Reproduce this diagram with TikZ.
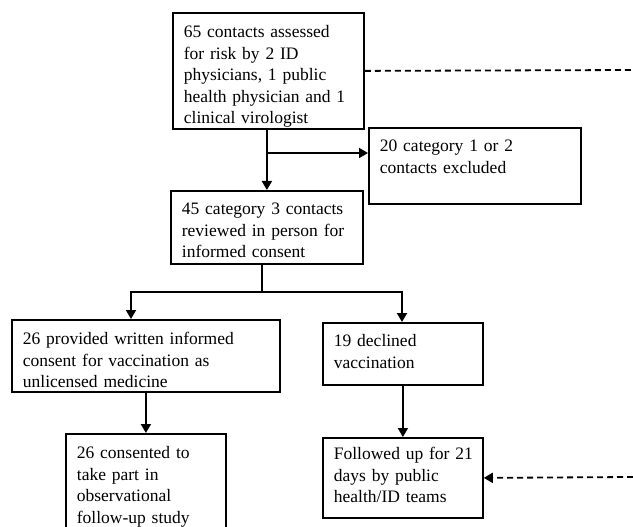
\documentclass[tikz,border=0pt]{standalone}
\usepackage{fontspec}
\setmainfont[WordSpace=0.8]{Liberation Serif}
\usetikzlibrary{arrows.meta}
\begin{document}
\begin{tikzpicture}[x=1pt,y=-1pt,
  flowbox/.style={draw, line width=1.8pt, anchor=north west, inner xsep=11pt, inner ysep=0pt,
    align=left, font=\fontsize{17.5}{21.5}\selectfont, text height=24pt},
  conn/.style={line width=1.8pt, -{Triangle[length=9pt,width=10pt]}},
  link/.style={line width=1.8pt},
  dashlink/.style={line width=1.8pt, dash pattern=on 6pt off 4pt}]
\useasboundingbox (0,0) rectangle (633,527);

\node[flowbox, text width=169pt, text height=25pt, text depth=91pt] (b1) at (172,12)
  {65 contacts assessed\\for risk by 2 ID\\physicians, 1 public\\health physician and 1\\clinical virologist};
\node[flowbox, text width=190pt, text depth=52pt] (b2) at (368,127)
  {20 category 1 or 2\\contacts excluded};
\node[flowbox, text width=170pt, text depth=49pt] (b3) at (170,190)
  {45 category 3 contacts\\reviewed in person for\\informed consent};
\node[flowbox, text width=246pt, text height=25pt, text depth=47pt] (b4) at (11,319)
  {26 provided written informed\\consent for vaccination as\\unlicensed medicine};
\node[flowbox, text width=138pt, text depth=38pt] (b5) at (322,322)
  {19 declined\\vaccination};
\node[flowbox, text width=138pt, text height=25pt, text depth=77pt] (b6) at (65,433)
  {26 consented to\\take part in\\observational\\follow-up study};
\node[flowbox, text width=138pt, text height=22pt, text depth=58pt] (b7) at (322,437)
  {\mbox{Followed up for 21}\\days by public\\health/ID teams};

\coordinate (j1) at (266,153);
\coordinate (j2) at (262,292);
\coordinate (jL) at (131,292);
\coordinate (jR) at (402,292);
\coordinate (e1) at (633,70);
\coordinate (e2) at (633,477);

\draw[conn] (b1.south -| b3.north) -- (b3.north);
\draw[conn] (j1) -- (j1 -| b2.west);
\draw[link] (b3.south -| j2) -- (j2);
\draw[link, line cap=rect] (jL) -- (jR);
\draw[conn] (jL) -- (jL |- b4.north);
\draw[conn] (jR) -- (jR |- b5.north);
\draw[conn] (b4.south) -- (b6.north);
\draw[conn] (b5.south) -- (b7.north);
\draw[dashlink] (b1.east) -- (e1);
\draw[dashlink, -{Triangle[length=9pt,width=10pt]}] (e2) -- (b7.east);
\end{tikzpicture}
\end{document}
